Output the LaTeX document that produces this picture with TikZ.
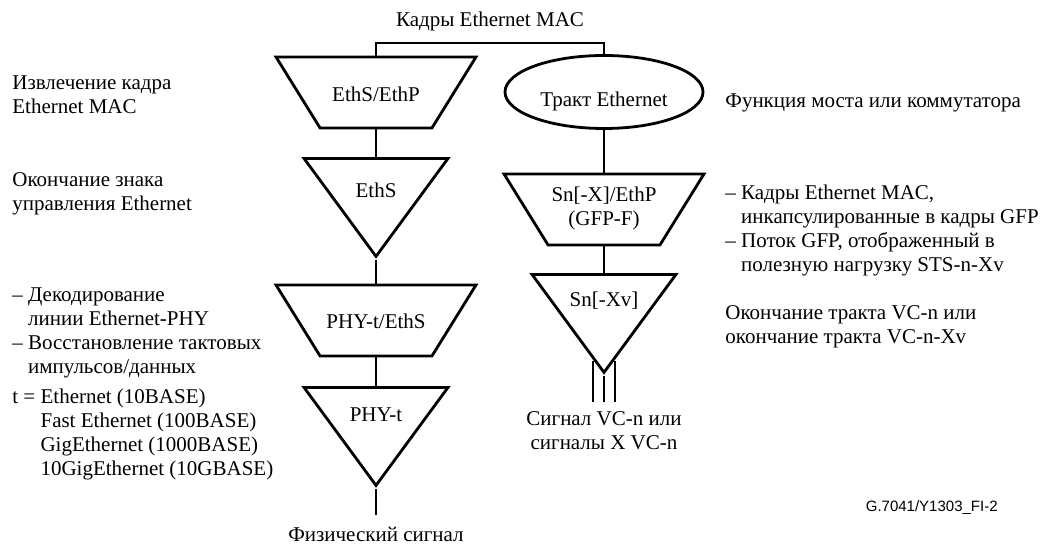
\documentclass[tikz,border=0pt]{standalone}
\usepackage{fontspec}
\setmainfont{Liberation Serif}
\newfontfamily\figid{Liberation Sans}
\usetikzlibrary{shapes.geometric,calc}

\begin{document}
\begin{tikzpicture}[x=0.5pt, y=-0.5pt, font=\fontsize{10.5}{12}\selectfont]
\def \u {0.5pt}
\def \sw {1.4pt}
\def \lw {0.6pt}
  \tikzstyle{trap} = [draw, trapezium, shape border rotate=180, trapezium left angle=68.5,
                      trapezium right angle=68.5, trapezium stretches=true,
                      minimum width=200*\u, minimum height=71*\u, line width=\sw, inner sep=1pt]
  \tikzstyle{tri} = [draw, isosceles triangle, shape border rotate=270, isosceles triangle stretches=true,
                     minimum width=144*\u, minimum height=98*\u, line width=\sw, inner sep=1pt, anchor=north]
  \tikzstyle{oval} = [draw, ellipse, minimum width=198*\u, minimum height=73*\u, line width=\sw, inner sep=1pt]
  \tikzstyle{lines} = [black, line width=\lw, -]
  \tikzstyle{label} = [anchor=base, align=center, inner sep=0]
  \tikzstyle{note} = [anchor=north west, align=left, inner sep=0]

\useasboundingbox (0,0) rectangle (1042,544);

%%%%%%%%%%%%%%%%%%%%%%%%%%%%%%%%%%%%%%%%%%%%%%%%%%%%%%%%%%%%%%%%%%%%%%%%%%%%%%%

\coordinate (ethp_pose) at (376, 92.5);
\coordinate (eths_pose) at (376, 157);
\coordinate (phyeths_pose) at (376, 320.5);
\coordinate (phy_pose) at (376, 386);
\coordinate (trail_pose) at (604, 92);
\coordinate (snx_pose) at (604, 209.5);
\coordinate (snxv_pose) at (604, 273);

%%%%%%%%%%%%%%%%%%%%%%%%%%%%%%%%%%%%%%%%%%%%%%%%%%%%%%%%%%%%%%%%%%%%%%%%%%%%%%%

\node[trap] (ethp) at (ethp_pose) {};
\node[tri] (eths) at (eths_pose) {};
\node[trap] (phyeths) at (phyeths_pose) {};
\node[tri] (phy) at (phy_pose) {};
\node[oval] (trail) at (trail_pose) {};
\node[trap] (snx) at (snx_pose) {};
\node[tri] (snxv) at (snxv_pose) {};

\node[label] (ethp_txt) at (376, 102) {EthS/EthP};
\node[label] (eths_txt) at (376, 198) {EthS};
\node[label] (phyeths_txt) at (376, 329) {PHY-t/EthS};
\node[label] (phy_txt) at (376, 422) {PHY-t};
\node[label] (trail_txt) at (604, 107) {Тракт Ethernet};
\node[label] (snx_txt) at (604, 226) {Sn[-X]/EthP\\(GFP-F)};
\node[label] (snxv_txt) at (604, 307) {Sn[-Xv]};

\node[label] (mac) at (490, 27) {Кадры Ethernet MAC};
\node[label] (phys) at (376, 541) {Физический сигнал};
\node[anchor=north, align=center, inner sep=0] (vcn) at (604, 411) {Сигнал VC-n или\\сигналы X VC-n};

\node[note] (n1) at (12, 75) {Извлечение кадра\\Ethernet MAC};
\node[note] (n2) at (12, 172) {Окончание знака\\управления Ethernet};
\node[note] (n3) at (12, 287) {– Декодирование\\\phantom{– }линии Ethernet-PHY\\– Восстановление тактовых\\\phantom{– }импульсов/данных};
\node[note] (n4) at (12, 389) {t = Ethernet (10BASE)\\\phantom{t = }Fast Ethernet (100BASE)\\\phantom{t = }GigEthernet (1000BASE)\\\phantom{t = }10GigEthernet (10GBASE)};
\node[note] (n5) at (725, 93) {Функция моста или коммутатора};
\node[note] (n6) at (725, 185) {– Кадры Ethernet MAC,\\\phantom{– }инкапсулированные в кадры GFP\\– Поток GFP, отображенный в\\\phantom{– }полезную нагрузку STS-n-Xv};
\node[note] (n7) at (725, 305) {Окончание тракта VC-n или\\окончание тракта VC-n-Xv};
\node[anchor=base east, inner sep=0, font=\figid\fontsize{7.5}{9}\selectfont] (figid) at (998, 511) {G.7041/Y1303\_FI-2};

%%%%%%%%%%%%%%%%%%%%%%%%%%%%%%%%%%%%%%%%%%%%%%%%%%%%%%%%%%%%%%%%%%%%%%%%%%%%%%%

\coordinate (split) at (490, 43);
\coordinate (phys_end) at (376, 515);
\coordinate (vcn_end) at (604, 402);

\draw[lines] (ethp.north) |- (split) -| (trail.north);
\draw[lines] (ethp.south) -- (eths.north);
\draw[lines] (eths.apex) -- (phyeths.north);
\draw[lines] (phyeths.south) -- (phy.north);
\draw[lines] (phy.apex) -- (phys_end);

\draw[lines] (trail.south) -- (snx.north);
\draw[lines] (snx.south) -- (snxv.north);
\draw[lines] (snxv.apex) -- (vcn_end);
\draw[lines] ($(snxv.apex)+(-11,-15)$) -- ($(vcn_end)+(-11,0)$);
\draw[lines] ($(snxv.apex)+(11,-15)$) -- ($(vcn_end)+(11,0)$);

\end{tikzpicture}
\end{document}
